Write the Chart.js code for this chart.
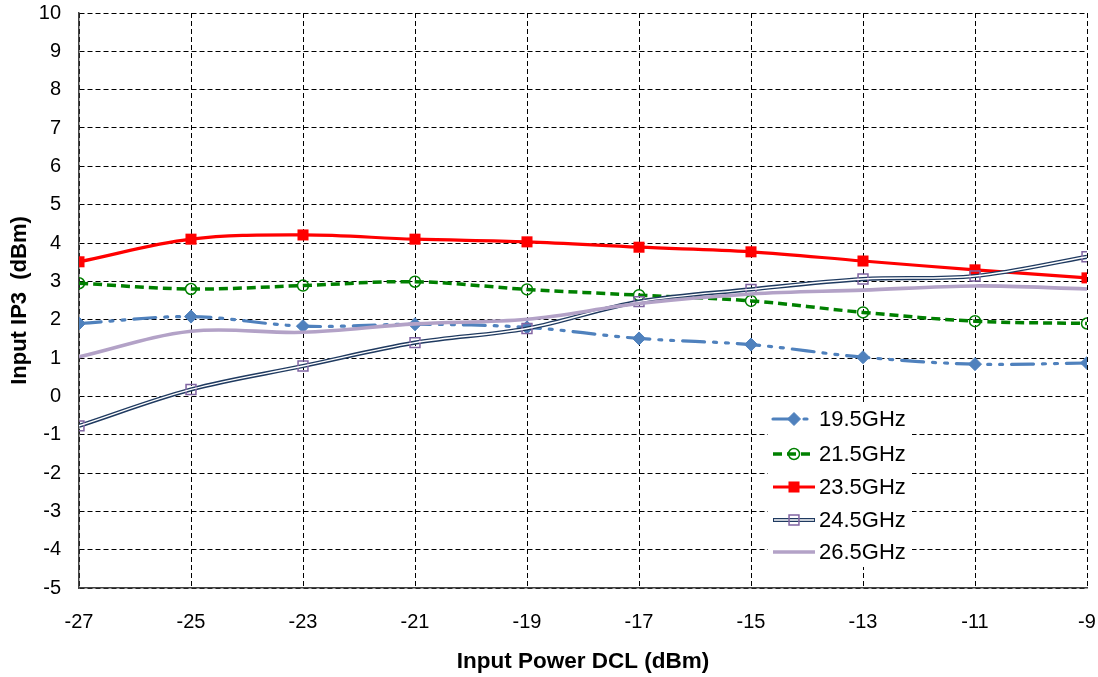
<!DOCTYPE html>
<html>
<head>
<meta charset="utf-8">
<script src="https://cdn.jsdelivr.net/npm/chart.js@4.4.1/dist/chart.umd.min.js"></script>
<style>
  html, body { margin: 0; padding: 0; background: #fff; }
  #wrap { width: 1098px; height: 677px; }
</style>
</head>
<body>
<div id="wrap"><canvas id="c" width="1098" height="677"></canvas></div>
<script>
const inputPower = [-27, -25, -23, -21, -19, -17, -15, -13, -11, -9];
const seriesNames = ['19.5GHz', '21.5GHz', '23.5GHz', '24.5GHz', '26.5GHz'];
const ip3_19_5 = [1.90, 2.08, 1.83, 1.88, 1.80, 1.51, 1.35, 1.02, 0.84, 0.87];
const ip3_21_5 = [2.95, 2.80, 2.89, 2.99, 2.79, 2.64, 2.49, 2.19, 1.96, 1.90];
const ip3_23_5 = [3.51, 4.10, 4.21, 4.10, 4.03, 3.89, 3.77, 3.53, 3.30, 3.09];
const ip3_24_5 = [-0.77, 0.18, 0.79, 1.40, 1.77, 2.47, 2.79, 3.06, 3.14, 3.64];
const ip3_26_5 = [1.03, 1.70, 1.67, 1.89, 2.01, 2.42, 2.67, 2.77, 2.88, 2.80];

const toXY = arr => arr.map((v, i) => ({ x: inputPower[i], y: v }));
const FONT = '"Liberation Sans", Arial, sans-serif';

const datasets = [
  { label: seriesNames[0], data: toXY(ip3_19_5), borderColor: '#4F81BD', backgroundColor: '#4F81BD',
    borderWidth: 3.2, borderDash: [22, 9, 3, 9, 3, 9], borderCapStyle: 'round',
    pointStyle: 'rectRot', pointRadius: 6.5, pointBorderWidth: 1, pointBorderColor: '#4F81BD', pointBackgroundColor: '#4F81BD', order: 5 },
  { label: seriesNames[1], data: toXY(ip3_21_5), borderColor: '#008000', backgroundColor: 'rgba(0,0,0,0)',
    borderWidth: 3.5, borderDash: [9, 5],
    pointStyle: 'circle', pointRadius: 5.5, pointBorderWidth: 1.5, pointBorderColor: '#008000', pointBackgroundColor: 'rgba(0,0,0,0)', order: 4 },
  { label: seriesNames[2], data: toXY(ip3_23_5), borderColor: '#FF0000', backgroundColor: '#FF0000',
    borderWidth: 3.2,
    pointStyle: 'rect', pointRadius: 7.8, pointBorderWidth: 0, pointBackgroundColor: '#FF0000', order: 3 },
  { label: seriesNames[3], data: toXY(ip3_24_5), borderColor: '#1F3A60', backgroundColor: 'rgba(0,0,0,0)',
    borderWidth: 4.2,
    pointStyle: 'rect', pointRadius: 7, pointBorderWidth: 1.5, pointBorderColor: '#8064A2', pointBackgroundColor: 'rgba(0,0,0,0)', order: 2,
    innerColor: '#FFFFFF' },
  { label: '_inner', data: toXY(ip3_24_5), borderColor: '#FFFFFF', borderWidth: 1.4, pointRadius: 0, order: 1.8 },
  { label: seriesNames[4], data: toXY(ip3_26_5), borderColor: '#B3A2C7', backgroundColor: '#B3A2C7',
    borderWidth: 3.6, pointRadius: 0, order: 1 }
];

const legendPlugin = {
  id: 'insideLegend',
  afterDraw(chart) {
    const ctx = chart.ctx;
    ctx.save();
    ctx.fillStyle = '#FFFFFF';
    ctx.fillRect(768, 402, 144, 165);
    const rows = [419, 454, 487, 520, 552];
    const ds = chart.data.datasets.filter(d => d.label !== '_inner');
    ds.forEach((d, i) => {
      const y = rows[i];
      const x0 = 773, x1 = 815, xm = 794;
      ctx.save();
      ctx.lineWidth = d.borderWidth;
      ctx.strokeStyle = d.borderColor;
      ctx.setLineDash(d.borderDash || []);
      ctx.lineCap = d.borderCapStyle || 'butt';
      ctx.beginPath(); ctx.moveTo(x0, y); ctx.lineTo(x1, y); ctx.stroke();
      if (d.innerColor) {
        ctx.setLineDash([]);
        ctx.lineWidth = 1.4; ctx.strokeStyle = d.innerColor;
        ctx.beginPath(); ctx.moveTo(x0 + 1, y); ctx.lineTo(x1 - 1, y); ctx.stroke();
      }
      ctx.restore();
      if (d.pointRadius > 0) {
        ctx.save();
        ctx.setLineDash([]);
        ctx.fillStyle = d.pointBackgroundColor;
        ctx.strokeStyle = d.pointBorderColor || d.pointBackgroundColor;
        ctx.lineWidth = d.pointBorderWidth;
        Chart.helpers.drawPoint(ctx, { pointStyle: d.pointStyle, radius: d.pointRadius, rotation: 0, borderWidth: d.pointBorderWidth }, xm, y);
        ctx.restore();
      }
      ctx.fillStyle = '#000';
      ctx.font = '22px ' + FONT;
      ctx.textBaseline = 'middle';
      ctx.textAlign = 'left';
      ctx.fillText(d.label, 819, y + 1);
    });
    ctx.restore();
  }
};

new Chart(document.getElementById('c'), {
  type: 'line',
  data: { datasets },
  options: {
    responsive: false,
    animation: false,
    devicePixelRatio: 1,
    layout: { padding: { left: 0, right: 11, top: 13, bottom: 0 } },
    elements: { line: { tension: 0.35, fill: false } },
    plugins: { legend: { display: false }, tooltip: { enabled: false } },
    scales: {
      x: {
        type: 'linear', min: -27, max: -9,
        afterFit(s) { s.height = 89; s.paddingLeft = 0; s.paddingRight = 0; },
        ticks: { stepSize: 2, padding: 22, color: '#000', font: { family: FONT, size: 20 }, maxRotation: 0 },
        grid: { color: '#000', lineWidth: 1, drawTicks: false },
        border: { display: true, color: '#444', width: 1.5, dash: [5, 3] },
        title: { display: true, text: 'Input Power DCL (dBm)', color: '#000', font: { family: FONT, size: 22.5, weight: 'bold' }, padding: { top: 0, bottom: 2 } }
      },
      y: {
        type: 'linear', min: -5, max: 10,
        afterFit(s) { s.width = 79; s.paddingTop = 0; s.paddingBottom = 0; },
        ticks: { stepSize: 1, padding: 18, color: '#000', font: { family: FONT, size: 20 } },
        grid: { color: '#000', lineWidth: 1, drawTicks: false },
        border: { display: true, color: '#444', width: 1.5, dash: [5, 3] },
        title: { display: true, text: 'Input IP3  (dBm)', color: '#000', font: { family: FONT, size: 22, weight: 'bold' }, padding: { top: 7, bottom: 0 } }
      }
    }
  },
  plugins: [legendPlugin]
});
</script>
</body>
</html>
